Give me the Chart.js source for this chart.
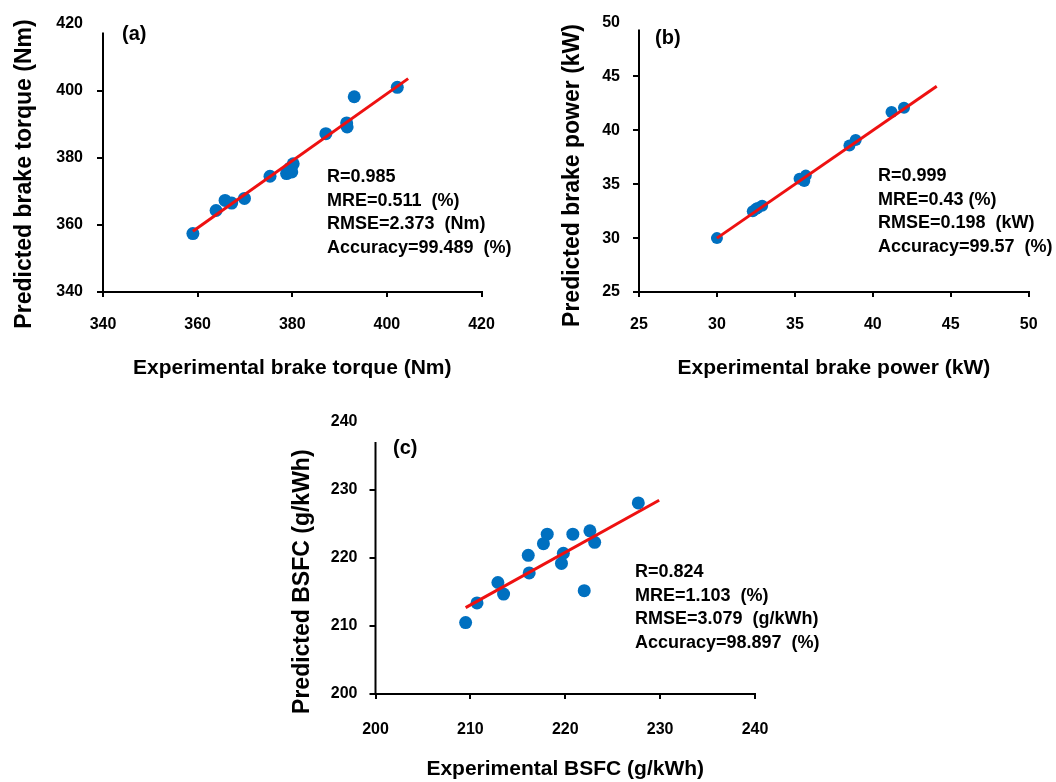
<!DOCTYPE html>
<html>
<head>
<meta charset="utf-8">
<script src="https://cdn.jsdelivr.net/npm/chart.js@4.4.1/dist/chart.umd.min.js"></script>
<style>
  body { margin: 0; background: #fff; width: 1056px; height: 782px; overflow: hidden; position: relative; font-family: "Liberation Sans", Arial, sans-serif; }
  canvas { position: absolute; left: 0; top: 0; }
  .stats { position: absolute; font-weight: bold; font-size: 18px; line-height: 23.5px; white-space: pre; color: #000; }
  .tag { position: absolute; font-weight: bold; font-size: 20px; line-height: 24px; color: #000; }
</style>
</head>
<body>
<canvas id="chartA" width="1056" height="782"></canvas>
<canvas id="chartB" width="1056" height="782"></canvas>
<canvas id="chartC" width="1056" height="782"></canvas>

<div class="tag" style="left:122px; top:21px;">(a)</div>
<div class="tag" style="left:655px; top:25px;">(b)</div>
<div class="tag" style="left:393px; top:435px;">(c)</div>

<div class="stats" style="left:327px; top:165px;">R=0.985
MRE=0.511  (%)
RMSE=2.373  (Nm)
Accuracy=99.489  (%)</div>
<div class="stats" style="left:878px; top:164px;">R=0.999
MRE=0.43 (%)
RMSE=0.198  (kW)
Accuracy=99.57  (%)</div>
<div class="stats" style="left:635px; top:560px;">R=0.824
MRE=1.103  (%)
RMSE=3.079  (g/kWh)
Accuracy=98.897  (%)</div>

<script>
// (a) brake torque, Nm
const torqueExp  = [359.0, 363.9, 365.8, 367.2, 369.9, 375.3, 378.8, 379.9, 380.2, 379.5, 387.1, 391.5, 391.6, 393.1, 402.2];
const torquePred = [357.4, 364.3, 367.3, 366.5, 367.9, 374.5, 375.3, 375.8, 378.2, 376.9, 387.2, 390.4, 389.2, 398.2, 401.0];
const torqueFitX = [359.0, 404.5];
const torqueFitY = [358.1, 403.6];
const torqueTicks = [340, 360, 380, 400, 420];

// (b) brake power, kW
const powerExp  = [30.0, 32.3, 32.6, 32.9, 32.5, 35.3, 35.7, 35.6, 38.5, 38.9, 41.2, 42.0];
const powerPred = [30.0, 32.5, 32.8, 33.0, 32.7, 35.5, 35.8, 35.3, 38.6, 39.1, 41.7, 42.1];
const powerFitX = [30.0, 44.1];
const powerFitY = [30.0, 44.1];
const powerTicks = [25, 30, 35, 40, 45, 50];

// (c) BSFC, g/kWh
const bsfcExp  = [209.5, 210.7, 212.9, 213.5, 216.1, 216.2, 217.7, 218.1, 219.6, 219.8, 220.8, 222.0, 222.6, 223.1, 227.7];
const bsfcPred = [210.5, 213.4, 216.4, 214.7, 220.4, 217.8, 222.1, 223.5, 219.2, 220.7, 223.5, 215.2, 224.0, 222.3, 228.1];
const bsfcFitX = [209.5, 229.9];
const bsfcFitY = [212.7, 228.5];
const bsfcTicks = [200, 210, 220, 230, 240];

const FONT = '"Liberation Sans", Arial, sans-serif';
const BLUE = '#0070c0';
const RED = '#ee1111';

Chart.defaults.font.family = FONT;
Chart.defaults.color = '#000';

// draws the y axis line (its top end is cut in the source figure) and the rotated y title
const panelDecor = {
    id: 'panelDecor',
    afterDraw(chart, args, opts) {
        const ctx = chart.ctx;
        const area = chart.chartArea;
        ctx.save();
        ctx.strokeStyle = '#000';
        ctx.lineWidth = 2;
        ctx.beginPath();
        ctx.moveTo(area.left, area.top + opts.axisGap);
        ctx.lineTo(area.left, area.bottom + 1);
        ctx.stroke();

        ctx.translate(opts.titleX, opts.titleY);
        ctx.rotate(-Math.PI / 2);
        ctx.font = 'bold ' + opts.titleSize + 'px ' + FONT;
        ctx.textAlign = 'center';
        ctx.textBaseline = 'middle';
        ctx.fillStyle = '#000';
        ctx.fillText(opts.title, 0, 0);
        ctx.restore();
    }
};

function makePanel(canvasId, xs, ys, fitX, fitY, ticks, g) {
    const W = 1056, H = 782;
    const padLeft = 5;
    const titleSize = 21;
    const xAxisH = g.xTitleY + titleSize * 0.6 - g.bottom;
    const tickMin = ticks[0];
    const tickMax = ticks[ticks.length - 1];
    const step = ticks[1] - ticks[0];

    const points = xs.map((x, i) => ({ x: x, y: ys[i] }));
    const fit = fitX.map((x, i) => ({ x: x, y: fitY[i] }));

    const hideTop = (c) => (c.tick && c.tick.value === tickMax) ? 'rgba(0,0,0,0)' : '#000';

    return new Chart(document.getElementById(canvasId), {
        type: 'scatter',
        data: {
            datasets: [
                {
                    data: fit,
                    showLine: true,
                    pointRadius: 0,
                    borderColor: RED,
                    borderWidth: 3
                },
                {
                    data: points,
                    pointRadius: g.radius,
                    pointBackgroundColor: BLUE,
                    pointBorderWidth: 0
                }
            ]
        },
        options: {
            responsive: false,
            animation: false,
            events: [],
            layout: {
                padding: {
                    left: padLeft,
                    right: W - g.right,
                    top: g.top,
                    bottom: H - g.bottom - xAxisH
                }
            },
            plugins: {
                legend: { display: false },
                tooltip: { enabled: false },
                panelDecor: {
                    title: g.yTitle,
                    titleX: g.yTitleX,
                    titleY: g.yTitleY,
                    titleSize: 23,
                    axisGap: g.axisGap
                }
            },
            scales: {
                x: {
                    type: 'linear',
                    min: tickMin,
                    max: tickMax,
                    afterFit: (s) => { s.height = xAxisH; },
                    afterBuildTicks: (s) => { s.ticks = ticks.map(v => ({ value: v })); },
                    ticks: {
                        stepSize: step,
                        padding: g.xTickPad,
                        maxRotation: 0,
                        font: { size: 16, weight: 'bold' },
                        color: '#000'
                    },
                    grid: {
                        drawOnChartArea: false,
                        drawTicks: true,
                        tickLength: 5,
                        lineWidth: 2,
                        color: '#000'
                    },
                    border: { display: true, color: '#000', width: 2 },
                    title: {
                        display: true,
                        text: g.xTitle,
                        font: { size: titleSize, weight: 'bold' },
                        color: '#000',
                        padding: { top: 0, bottom: 0 }
                    }
                },
                y: {
                    type: 'linear',
                    min: tickMin,
                    max: tickMax,
                    afterFit: (s) => { s.width = g.left - padLeft; },
                    afterBuildTicks: (s) => { s.ticks = ticks.map(v => ({ value: v })); },
                    ticks: {
                        stepSize: step,
                        padding: g.yTickPad,
                        font: { size: 16, weight: 'bold' },
                        color: '#000'
                    },
                    grid: {
                        drawOnChartArea: false,
                        drawTicks: true,
                        tickLength: 6,
                        lineWidth: 2,
                        color: hideTop
                    },
                    border: { display: false }
                }
            }
        },
        plugins: [panelDecor]
    });
}

makePanel('chartA', torqueExp, torquePred, torqueFitX, torqueFitY, torqueTicks, {
    left: 103, right: 481.5, top: 19, bottom: 292,
    xTickPad: 18.4, yTickPad: 14, xTitleY: 368.3, radius: 6.5, axisGap: 9,
    xTitle: 'Experimental brake torque (Nm)',
    yTitle: 'Predicted brake torque (Nm)', yTitleX: 25, yTitleY: 174
});

makePanel('chartB', powerExp, powerPred, powerFitX, powerFitY, powerTicks, {
    left: 639, right: 1033.3, top: 19.5, bottom: 292,
    xTickPad: 18.4, yTickPad: 13, xTitleY: 368.3, radius: 6, axisGap: 7,
    xTitle: 'Experimental brake power (kW)',
    yTitle: 'Predicted brake power (kW)', yTitleX: 573, yTitleY: 175.5
});

makePanel('chartC', bsfcExp, bsfcPred, bsfcFitX, bsfcFitY, bsfcTicks, {
    left: 375.5, right: 755, top: 422, bottom: 694,
    xTickPad: 20.7, yTickPad: 12, xTitleY: 769.3, radius: 6.5, axisGap: 20,
    xTitle: 'Experimental BSFC (g/kWh)',
    yTitle: 'Predicted BSFC (g/kWh)', yTitleX: 303, yTitleY: 581.7
});
</script>
</body>
</html>
